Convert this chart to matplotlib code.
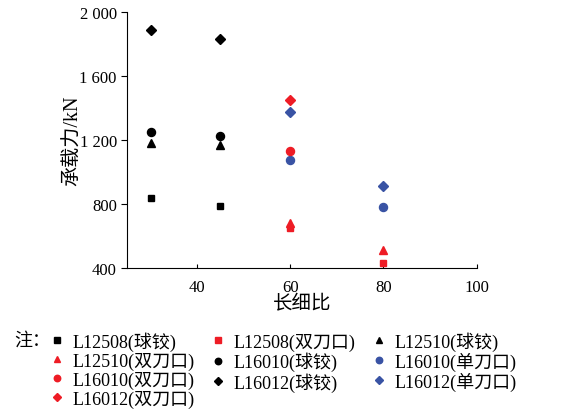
import matplotlib
matplotlib.use('Agg')
import matplotlib.pyplot as plt

plt.rcParams['font.family'] = ['Liberation Serif', 'Noto Sans CJK SC']
plt.rcParams['axes.unicode_minus'] = False

# slenderness ratio / load capacity (kN)
labels = ['L12508(球铰)', 'L12508(双刀口)', 'L12510(球铰)', 'L12510(双刀口)',
          'L16010(球铰)', 'L16010(单刀口)', 'L16010(双刀口)', 'L16012(球铰)',
          'L16012(单刀口)', 'L16012(双刀口)']
xs = [[30, 45], [60, 80], [30, 45], [60, 80],
      [30, 45], [60, 80], [60], [30, 45],
      [60, 80], [60]]
ys = [[837, 788], [653, 431], [1180, 1167], [680, 512],
      [1251, 1223], [1074, 783], [1132], [1892, 1833],
      [1374, 912], [1450]]

black, red, blue = '#000000', '#ee1c25', '#3953a4'
colors = [black, red, black, red, black, blue, red, black, blue, red]
markers = ['s', 's', '^', '^', 'o', 'o', 'o', 'D', 'D', 'D']
sizes = [4.8, 4.8, 6, 6, 5.8, 5.8, 5.8, 4.6, 4.6, 4.6]

fig = plt.figure(figsize=(5.68, 4.14), dpi=100)
ax = fig.add_axes([0.224, 0.35, 0.615, 0.618])

handles = []
for x, y, c, m, s in zip(xs, ys, colors, markers, sizes):
    h, = ax.plot(x, y, linestyle='none', marker=m, color=c, markersize=s,
                 clip_on=False)
    handles.append(h)

ax.set_xlim(25, 100)
ax.set_ylim(400, 2000)
ax.set_xticks([40, 60, 80, 100])
ax.set_yticks([400, 800, 1200, 1600, 2000])
ax.set_yticklabels(['400', '800', '1 200', '1 600', '2 000'])
ax.spines['top'].set_visible(False)
ax.spines['right'].set_visible(False)
ax.tick_params(axis='x', direction='in', length=3, labelsize=12, pad=8)
ax.tick_params(axis='y', direction='out', length=4, labelsize=12)
ax.set_xlabel('长细比', fontsize=14, labelpad=-1)
ax.set_ylabel('承载力/kN', fontsize=14.5, labelpad=-2.3)

# legend laid out row by row in 3 columns
order = [0, 3, 6, 9, 1, 4, 7, 2, 5, 8]
fig.text(0.025, 0.175, '注：', fontsize=13, va='center')
fig.legend([handles[i] for i in order], [labels[i] for i in order],
           ncol=3, loc='upper left', bbox_to_anchor=(0.075, 0.215),
           frameon=False, fontsize=13, handlelength=0.8, handletextpad=0.45,
           columnspacing=0.9, labelspacing=0.05, borderaxespad=0,
           markerscale=0.8)

fig.savefig('out.png', dpi=100)
